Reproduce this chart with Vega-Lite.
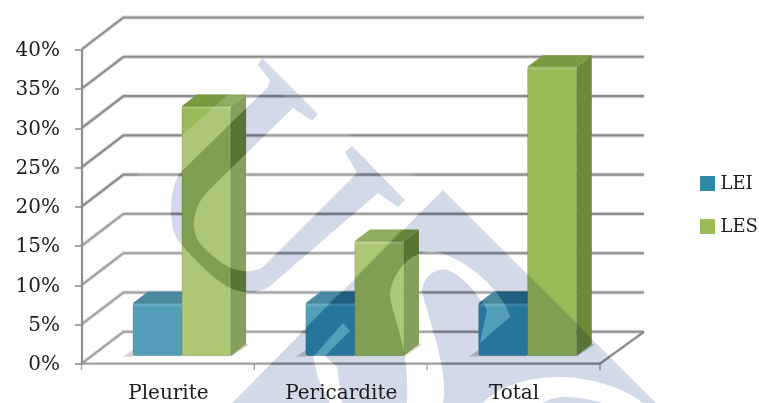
{
  "$schema": "https://vega.github.io/schema/vega-lite/v6.json",
  "width": 518.5,
  "height": 314.2,
  "autosize": {"type": "none"},
  "padding": {"left": 81.5, "top": 49.5, "right": 159, "bottom": 39.3},
  "background": "white",
  "view": {"stroke": null},
  "config": {
    "font": "DejaVu Serif",
    "axis": {"labelFont": "DejaVu Serif", "labelFontSize": 20, "labelColor": "#1c1c1c", "title": null, "grid": false, "labelOverlap": false},
    "legend": {"labelFont": "DejaVu Serif", "labelFontSize": 18, "labelColor": "#1c1c1c"}
  },
  "datasets": {
    "bars": [
      {"category": "Pleurite", "series": "LEI", "value": 6.7},
      {"category": "Pleurite", "series": "LES", "value": 31.8},
      {"category": "Pericardite", "series": "LEI", "value": 6.7},
      {"category": "Pericardite", "series": "LES", "value": 14.6},
      {"category": "Total", "series": "LEI", "value": 6.7},
      {"category": "Total", "series": "LES", "value": 36.8}
    ],
    "ticks": [
      {"tick": 0}, {"tick": 5}, {"tick": 10}, {"tick": 15}, {"tick": 20},
      {"tick": 25}, {"tick": 30}, {"tick": 35}, {"tick": 40}
    ],
    "floor": [
      {"fx": 0, "fy": 0},
      {"fx": 3, "fy": 0},
      {"fx": 3.255, "fy": 4.07}
    ],
    "boundaries": [{"b": 0}, {"b": 1}, {"b": 2}, {"b": 3}],
    "groups": [{"idx": 0}, {"idx": 1}, {"idx": 2}],
    "overlay": [{"name": "overlay"}]
  },
  "layer": [
    {
      "data": {"name": "ticks"},
      "transform": [
        {"calculate": "[0,1,2]", "as": "node"},
        {"flatten": ["node"]},
        {"calculate": "datum.node == 0 ? 0 : (datum.node == 1 ? 0.243 : 3.255)", "as": "gx"},
        {"calculate": "datum.tick + (datum.node == 0 ? 0 : 4.07)", "as": "gy"}
      ],
      "mark": {"type": "line", "stroke": "#c9c9c9", "strokeWidth": 4.2, "opacity": 0.6, "strokeJoin": "miter"},
      "encoding": {
        "x": {"field": "gx", "type": "quantitative", "title": null, "scale": {"domain": [0, 3], "nice": false, "zero": false},
          "axis": {"values": [0.5, 1.5, 2.5], "labelExpr": "['Pleurite','Pericardite','Total'][floor(datum.value)]", "ticks": false, "domain": false, "labelPadding": 19, "labelAngle": 0, "labelOverlap": false, "labelFlush": false, "labelBound": false, "zindex": 1}},
        "y": {"field": "gy", "type": "quantitative", "title": null, "scale": {"domain": [0, 40], "nice": false, "zero": false},
          "axis": {"tickCount": 8, "tickMinStep": 5, "labelExpr": "datum.value + '%'", "domainColor": "#8f8f8f", "domainWidth": 2.2, "tickColor": "#8f8f8f", "tickWidth": 1.6, "tickSize": 7, "labelPadding": 15, "labelFlush": false, "labelBound": false, "labelOverlap": false, "zindex": 1}},
        "detail": {"field": "tick", "type": "nominal"},
        "order": {"field": "node", "type": "quantitative"}
      }
    },
    {
      "data": {"name": "ticks"},
      "transform": [
        {"calculate": "[0,1,2]", "as": "node"},
        {"flatten": ["node"]},
        {"calculate": "datum.node == 0 ? 0 : (datum.node == 1 ? 0.243 : 3.255)", "as": "gx"},
        {"calculate": "datum.tick + (datum.node == 0 ? 0 : 4.07)", "as": "gy"}
      ],
      "mark": {"type": "line", "stroke": "#8c8c8c", "strokeWidth": 2.1, "strokeJoin": "miter"},
      "encoding": {
        "x": {"field": "gx", "type": "quantitative", "title": null, "scale": {"domain": [0, 3], "nice": false, "zero": false}},
        "y": {"field": "gy", "type": "quantitative", "title": null, "scale": {"domain": [0, 40], "nice": false, "zero": false}},
        "detail": {"field": "tick", "type": "nominal"},
        "order": {"field": "node", "type": "quantitative"}
      }
    },
    {
      "data": {"name": "floor"},
      "mark": {"type": "line", "stroke": "#8c8c8c", "strokeWidth": 2.3, "strokeJoin": "miter"},
      "encoding": {
        "x": {"field": "fx", "type": "quantitative", "title": null, "scale": {"domain": [0, 3], "nice": false, "zero": false}},
        "y": {"field": "fy", "type": "quantitative", "title": null, "scale": {"domain": [0, 40], "nice": false, "zero": false}}
      }
    },
    {
      "data": {"name": "boundaries"},
      "mark": {"type": "rule", "stroke": "#8f8f8f", "strokeWidth": 1.3},
      "encoding": {
        "x": {"field": "b", "type": "quantitative", "title": null, "scale": {"domain": [0, 3], "nice": false, "zero": false}},
        "y": {"datum": -0.8, "title": null, "scale": {"domain": [0, 40], "nice": false, "zero": false}},
        "y2": {"datum": 0}
      }
    },
    {
      "data": {"name": "groups"},
      "transform": [{"calculate": "datum.idx + 0.298", "as": "sx"}],
      "mark": {"type": "point", "filled": true, "size": 4, "fill": "#8a8a8a", "opacity": 0.42, "strokeWidth": 0,
        "shape": "M-10 1L0 -6L0 1ZM98 1L116 -11L110 -14L98 -6Z"},
      "encoding": {
        "x": {"field": "sx", "type": "quantitative", "title": null, "scale": {"domain": [0, 3], "nice": false, "zero": false}},
        "y": {"datum": 1.0175, "title": null, "scale": {"domain": [0, 40], "nice": false, "zero": false}}
      }
    },
    {
      "data": {"name": "bars"},
      "transform": [
        {"calculate": "indexof(['Pleurite','Pericardite','Total'], datum.category) + 0.2372 + (datum.series == 'LES' ? 0.2835 : 0)", "as": "left"},
        {"calculate": "[0.25, 0.61]", "as": "depth"},
        {"flatten": ["depth"]},
        {"calculate": "datum.left + datum.depth * 0.243", "as": "tx"},
        {"calculate": "datum.tx + 0.2835", "as": "tx2"},
        {"calculate": "datum.value + datum.depth * 4.07", "as": "ty"}
      ],
      "mark": {"type": "area", "orient": "horizontal", "line": false},
      "encoding": {
        "y": {"field": "ty", "type": "quantitative", "title": null, "scale": {"domain": [0, 40], "nice": false, "zero": false}},
        "x": {"field": "tx", "type": "quantitative", "title": null, "scale": {"domain": [0, 3], "nice": false, "zero": false}},
        "x2": {"field": "tx2"},
        "detail": {"field": "left", "type": "quantitative"},
        "fill": {"condition": {"test": "datum.series == 'LEI'", "value": "#246f8c"}, "value": "#7a9a3f"}
      }
    },
    {
      "data": {"name": "bars"},
      "transform": [
        {"calculate": "indexof(['Pleurite','Pericardite','Total'], datum.category) + 0.2372 + (datum.series == 'LES' ? 0.2835 : 0) + 0.2835", "as": "right"},
        {"calculate": "[0.25, 0.61]", "as": "depth"},
        {"flatten": ["depth"]},
        {"calculate": "datum.right + datum.depth * 0.243", "as": "sx"},
        {"calculate": "datum.value + datum.depth * 4.07", "as": "sy"},
        {"calculate": "datum.depth * 4.07", "as": "sy2"}
      ],
      "mark": {"type": "area", "orient": "vertical", "line": false},
      "encoding": {
        "x": {"field": "sx", "type": "quantitative", "title": null, "scale": {"domain": [0, 3], "nice": false, "zero": false}},
        "y": {"field": "sy", "type": "quantitative", "title": null, "scale": {"domain": [0, 40], "nice": false, "zero": false}},
        "y2": {"field": "sy2"},
        "detail": {"field": "right", "type": "quantitative"},
        "fill": {"condition": {"test": "datum.series == 'LEI'", "value": "#1f6a86"}, "value": "#6b8a3a"}
      }
    },
    {
      "data": {"name": "bars"},
      "transform": [
        {"calculate": "indexof(['Pleurite','Pericardite','Total'], datum.category) + 0.2372 + (datum.series == 'LES' ? 0.2835 : 0) + 0.25 * 0.243", "as": "fx"},
        {"calculate": "datum.fx + 0.2835", "as": "fx2"},
        {"calculate": "datum.value + 0.25 * 4.07", "as": "fy"},
        {"calculate": "0.25 * 4.07", "as": "fy2"}
      ],
      "mark": {"type": "rect", "cornerRadius": 1.5, "stroke": "#3a4a3a", "strokeOpacity": 0.3, "strokeWidth": 0.8},
      "encoding": {
        "x": {"field": "fx", "type": "quantitative", "title": null, "scale": {"domain": [0, 3], "nice": false, "zero": false}},
        "x2": {"field": "fx2"},
        "y": {"field": "fy", "type": "quantitative", "title": null, "scale": {"domain": [0, 40], "nice": false, "zero": false}},
        "y2": {"field": "fy2"},
        "fill": {
          "field": "series",
          "type": "nominal",
          "scale": {"domain": ["LEI", "LES"], "range": ["#2e8aa9", "#9bbb59"]},
          "legend": {
            "title": null,
            "orient": "none",
            "legendX": 617,
            "legendY": 125,
            "symbolType": "square",
            "symbolSize": 225,
            "symbolStrokeWidth": 0,
            "rowPadding": 25,
            "labelOffset": 4,
            "padding": 0
          }
        }
      }
    },
    {
      "data": {"name": "bars"},
      "transform": [
        {"calculate": "indexof(['Pleurite','Pericardite','Total'], datum.category) + 0.2372 + (datum.series == 'LES' ? 0.2835 : 0) + 0.25 * 0.243", "as": "fx"},
        {"calculate": "datum.fx + 0.2835", "as": "fx2"},
        {"calculate": "datum.value + 0.25 * 4.07", "as": "fy"}
      ],
      "mark": {"type": "rule", "stroke": "white", "strokeOpacity": 0.14, "strokeWidth": 2.4, "yOffset": 2},
      "encoding": {
        "x": {"field": "fx", "type": "quantitative", "title": null, "scale": {"domain": [0, 3], "nice": false, "zero": false}},
        "x2": {"field": "fx2"},
        "y": {"field": "fy", "type": "quantitative", "title": null, "scale": {"domain": [0, 40], "nice": false, "zero": false}}
      }
    },
    {
      "data": {"name": "overlay"},
      "mark": {"type": "point", "filled": true, "size": 4, "fill": "white", "opacity": 0.18, "strokeWidth": 0,
        "shape": "M-305 30L-305 203L-148 203L60 -10L-130 -125ZM-118 -142L-62 -86L-68 -79L-87 -92L-173 -8C-187 7 -192 32 -177 47C-160 65 -140 75 -127 70C-118 70 -115 65 -110 60L-23 -27L-35 -48L-28 -54L25 0L18 7L-2 -7L-103 80C-115 92 -125 92 -133 92C-150 92 -167 80 -200 43C-212 30 -212 -10 -200 -27L-112 -113L-110 -120L-122 -135ZM100 143L130 117C125 95 90 60 57 52C30 48 10 75 10 97C15 125 30 150 27 203L63 203C70 170 45 110 42 90C45 72 60 68 67 70C85 75 105 105 107 110ZM-37 123L-67 157L-62 178L-50 203L-38 203L-43 167L-55 156L-30 131Z"},
      "encoding": {
        "x": {"datum": 1.727, "title": null, "scale": {"domain": [0, 3], "nice": false, "zero": false}},
        "y": {"datum": 20.84, "title": null, "scale": {"domain": [0, 40], "nice": false, "zero": false}}
      }
    },
    {
      "data": {"name": "overlay"},
      "mark": {"type": "point", "filled": true, "size": 4, "fill": "#d2d9e9", "opacity": 1, "blend": "multiply", "strokeWidth": 0,
        "shape": "M-118 -142L-62 -86L-68 -79L-87 -92L-173 -8C-187 7 -192 32 -177 47C-160 65 -140 75 -127 70C-118 70 -115 65 -110 60L-23 -27L-35 -48L-28 -54L25 0L18 7L-2 -7L-103 80C-115 92 -125 92 -133 92C-150 92 -167 80 -200 43C-212 30 -212 -10 -200 -27L-112 -113L-110 -120L-122 -135ZM63 -10L276 203L-148 203ZM100 143L130 117C125 95 90 60 57 52C30 48 10 75 10 97C15 125 30 150 27 203L63 203C70 170 45 110 42 90C45 72 60 68 67 70C85 75 105 105 107 110ZM-37 123L-67 157L-62 178L-50 203L-38 203L-43 167L-55 156L-30 131ZM103 203L163 203C175 195 195 195 223 203L263 203C240 185 205 177 180 177C150 177 120 185 103 203Z"},
      "encoding": {
        "x": {"datum": 1.727, "title": null, "scale": {"domain": [0, 3], "nice": false, "zero": false}},
        "y": {"datum": 20.84, "title": null, "scale": {"domain": [0, 40], "nice": false, "zero": false}}
      }
    }
  ]
}
